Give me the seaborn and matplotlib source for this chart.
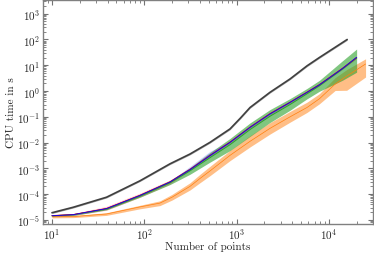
import matplotlib
matplotlib.use("Agg")
import matplotlib.pyplot as plt
import pandas as pd
import seaborn as sns

# values (time in s); lo / mid / hi per point
n_black = [10, 17, 39, 90, 190, 313, 515, 850, 1100, 1400, 2300, 3800, 5800, 7900, 15800]
black_mid = [1.9e-5, 3.1e-5, 7.6e-5, 3.3e-4, 1.5e-3, 3.6e-3, 1.02e-2, 3.4e-2, 8.9e-2, 0.23, 0.89, 2.95, 9.5, 20, 100]
black_lo = [1.77e-5, 2.9e-5, 7.1e-5, 3.1e-4, 1.4e-3, 3.35e-3, 9.5e-3, 3.15e-2, 8.3e-2, 0.214, 0.83, 2.75, 8.8, 18.6, 93]
black_hi = [2.03e-5, 3.3e-5, 8.1e-5, 3.5e-4, 1.6e-3, 3.85e-3, 1.09e-2, 3.65e-2, 9.5e-2, 0.246, 0.95, 3.15, 10.2, 21.4, 107]

n_mid = [10, 17, 39, 90, 190, 313, 515, 850, 1400, 2300, 3800, 5800, 7900, 14000, 20000]
green_mid = [1.45e-5, 1.6e-5, 2.6e-5, 8.3e-5, 2.75e-4, 8.0e-4, 2.6e-3, 8.3e-3, 3.2e-2, 0.105, 0.30, 0.78, 1.6, 7.1, 19]
green_lo = [1.35e-5, 1.48e-5, 2.45e-5, 7.6e-5, 2.35e-4, 5.9e-4, 1.74e-3, 4.9e-3, 1.74e-2, 6.0e-2, 0.18, 0.50, 0.98, 2.6, 5.4]
green_hi = [1.55e-5, 1.7e-5, 3.0e-5, 1.0e-4, 3.4e-4, 1.07e-3, 4.1e-3, 1.45e-2, 5.8e-2, 0.19, 0.51, 1.26, 2.6, 14.8, 42.7]

red_mid = [1.48e-5, 1.62e-5, 2.8e-5, 9.1e-5, 3.0e-4, 9.2e-4, 3.2e-3, 1.05e-2, 4.0e-2, 0.133, 0.37, 0.91, 1.78, 7.6, 20]
red_lo = [1.4e-5, 1.5e-5, 2.35e-5, 7.6e-5, 2.5e-4, 8.4e-4, 2.9e-3, 9.6e-3, 3.65e-2, 0.121, 0.34, 0.83, 1.62, 6.9, 18]
red_hi = [1.6e-5, 1.75e-5, 3.4e-5, 1.1e-4, 3.6e-4, 1.01e-3, 3.5e-3, 1.16e-2, 4.4e-2, 0.146, 0.41, 1.0, 1.96, 8.4, 22]

blue_mid = [1.45e-5, 1.6e-5, 2.75e-5, 8.9e-5, 2.95e-4, 8.9e-4, 3.1e-3, 1.02e-2, 3.9e-2, 0.129, 0.363, 0.89, 1.74, 7.4, 20.4]
blue_lo = [1.35e-5, 1.5e-5, 2.55e-5, 8.3e-5, 2.75e-4, 8.3e-4, 2.9e-3, 9.5e-3, 3.6e-2, 0.12, 0.338, 0.83, 1.62, 6.9, 19]
blue_hi = [1.55e-5, 1.7e-5, 2.95e-5, 9.6e-5, 3.2e-4, 1.2e-3, 4.6e-3, 1.1e-2, 4.2e-2, 0.138, 0.39, 0.95, 1.86, 7.9, 22]

n_orange = [10, 17, 39, 90, 148, 200, 313, 400, 515, 850, 1400, 2300, 3800, 5800, 7900, 11700, 15600, 25000]
orange_mid = [1.32e-5, 1.35e-5, 1.7e-5, 3.2e-5, 4.5e-5, 7.6e-5, 2.0e-4, 4.0e-4, 7.9e-4, 3.2e-3, 1.12e-2, 3.55e-2, 0.10, 0.23, 0.50, 1.86, 3.8, 11.2]
orange_lo = [1.2e-5, 1.23e-5, 1.5e-5, 2.7e-5, 3.6e-5, 5.9e-5, 1.45e-4, 2.75e-4, 5.2e-4, 2.0e-3, 6.8e-3, 2.14e-2, 6.2e-2, 0.148, 0.32, 1.05, 1.07, 3.5]
orange_hi = [1.45e-5, 1.48e-5, 1.9e-5, 3.7e-5, 5.5e-5, 9.8e-5, 2.75e-4, 5.8e-4, 1.2e-3, 5.0e-3, 1.86e-2, 5.9e-2, 0.162, 0.37, 0.79, 3.3, 6.8, 17.8]


def long_frame(n, lo, mid, hi):
    rows = []
    for i in range(len(n)):
        for v in (lo[i], mid[i], hi[i]):
            rows.append({"n": n[i], "t": v})
    return pd.DataFrame(rows)


sns.set_style("ticks")
plt.rcParams["font.family"] = ["cmr10", "DejaVu Serif"]
plt.rcParams["mathtext.fontset"] = "cm"
plt.rcParams["axes.formatter.use_mathtext"] = True
plt.rcParams["axes.unicode_minus"] = False

fig = plt.figure(figsize=(3.74, 2.55), dpi=100)
ax = fig.add_axes([0.115, 0.118, 0.882, 0.878])
ax.set_xscale("log")
ax.set_yscale("log")

series = [
    (n_black, black_lo, black_mid, black_hi, "#404040", 0.45, 1.2),
    (n_orange, orange_lo, orange_mid, orange_hi, "#ff7f0e", 0.5, 0.5),
    (n_mid, green_lo, green_mid, green_hi, "#2ca02c", 0.6, 0.7),
    (n_mid, red_lo, red_mid, red_hi, "red", 0.18, 0.6),
    (n_mid, blue_lo, blue_mid, blue_hi, "blue", 0.18, 0.6),
]
for n, lo, mid, hi, lc, a, lw in series:
    df = long_frame(n, lo, mid, hi)
    sns.lineplot(data=df, x="n", y="t", ax=ax, estimator="median",
                 errorbar=("pi", 100), color=lc, linewidth=lw,
                 err_kws={"alpha": a, "linewidth": 0})

ax.set_xlim(8, 30000)
ax.set_ylim(7e-6, 3.4e3)
ax.set_yticks([10.0 ** k for k in range(-5, 4)])
ax.set_xticks([10.0 ** k for k in range(1, 5)])
ax.tick_params(which="both", direction="in", top=True, right=True,
               colors="0.45", labelcolor="0.15", labelsize=8, pad=2)
ax.tick_params(which="major", length=3.5, width=0.8)
ax.tick_params(which="minor", length=2, width=0.6)
for sp in ax.spines.values():
    sp.set_color("0.5")
    sp.set_linewidth(1.0)
ax.set_xlabel("Number of points", fontsize=8, color="0.15", labelpad=0)
ax.set_ylabel("CPU time in s", fontsize=8, color="0.15", labelpad=1)

fig.savefig("out.png", dpi=100)
